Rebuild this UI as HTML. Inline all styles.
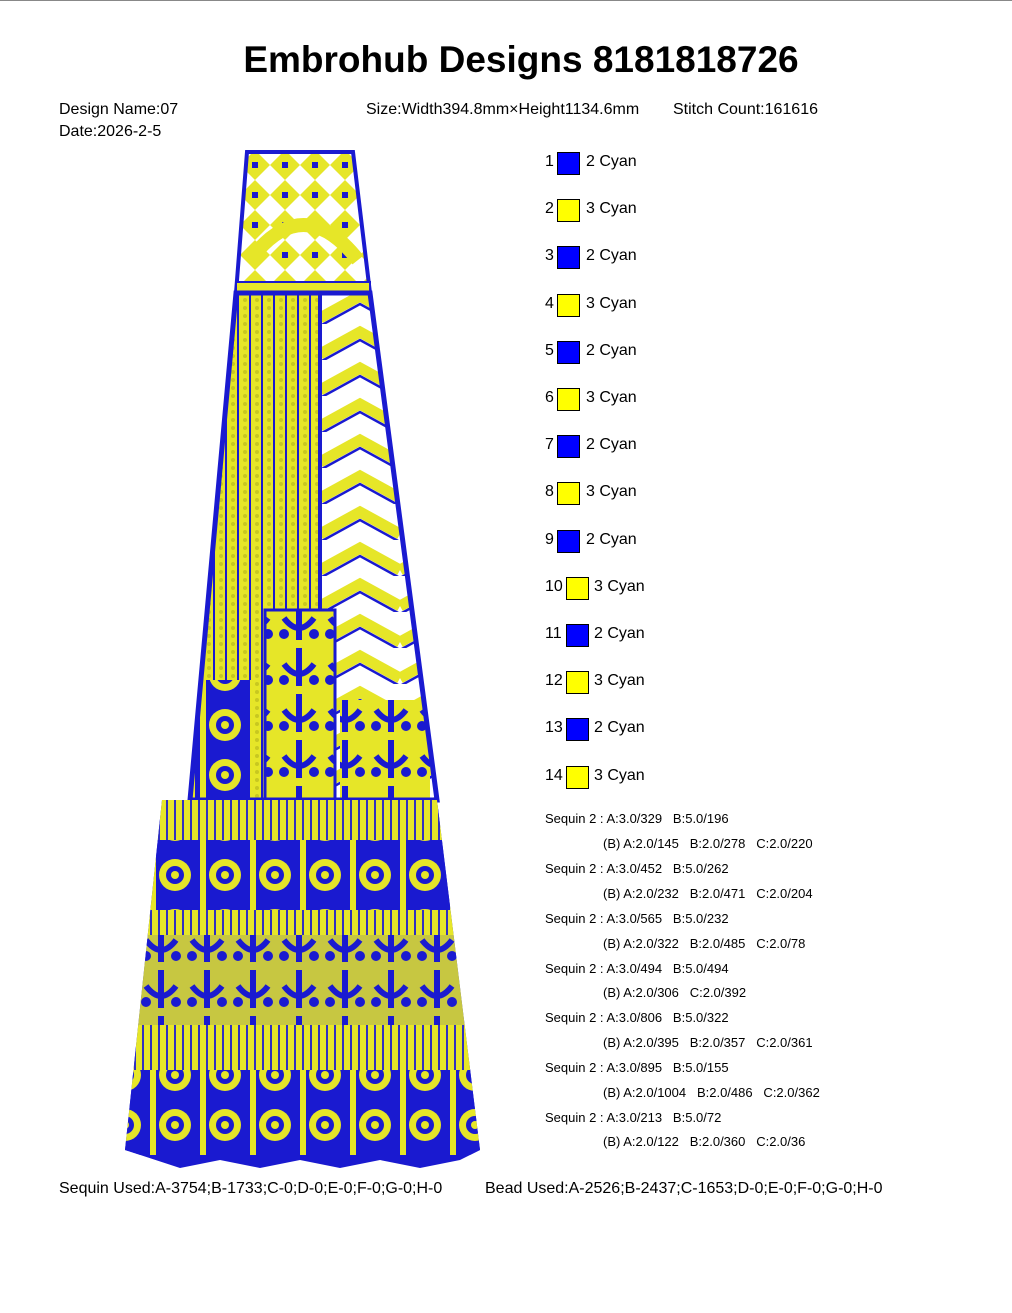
<!DOCTYPE html>
<html><head><meta charset="utf-8"><style>
body{margin:0;background:#fff;width:1012px;height:1313px;position:relative;overflow:hidden;font-family:"Liberation Sans",sans-serif;color:#000}
.t{position:absolute;white-space:nowrap}
.info{font-size:16px}
.sq{position:absolute;width:23px;height:23px;border:1px solid #000;box-sizing:border-box}
.b{background:#0000ff}.y{background:#ffff00}
.lg{position:absolute;font-size:16px;white-space:nowrap}
.sq2{font-size:13px;position:absolute;white-space:nowrap}
</style></head><body>
<div style="position:absolute;left:0;top:0;width:1012px;height:1px;background:#888"></div>
<div class="t" style="left:0;width:1042px;text-align:center;top:39px;font-size:37px;font-weight:bold">Embrohub Designs 8181818726</div>
<div class="t info" style="left:59px;top:101px">Design Name:07</div>
<div class="t info" style="left:59px;top:123px">Date:2026-2-5</div>
<div class="t info" style="left:366px;top:101px">Size:Width394.8mm×Height1134.6mm</div>
<div class="t info" style="left:673px;top:101px">Stitch Count:161616</div>

<svg style="position:absolute;left:0;top:0" width="1012" height="1313">
<defs>
<pattern id="stripes" width="12" height="8" patternUnits="userSpaceOnUse">
<rect width="12" height="8" fill="#e6e628"/><rect x="9" width="2" height="8" fill="#1a1ad0"/><circle cx="5" cy="4" r="2" fill="#c8c820"/></pattern>
<pattern id="chev" width="80" height="36" patternUnits="userSpaceOnUse">
<rect width="80" height="36" fill="#fff"/>
<path d="M0 30 L40 8 L80 30" stroke="#e6e628" stroke-width="11" fill="none"/>
<path d="M0 38 L40 16 L80 38" stroke="#1a1ad0" stroke-width="2.5" fill="none"/></pattern>
<pattern id="motif" width="50" height="50" patternUnits="userSpaceOnUse">
<rect width="50" height="50" fill="#1a1ad0"/>
<circle cx="25" cy="25" r="16" fill="#e6e628"/><circle cx="25" cy="25" r="9" fill="#1a1ad0"/><circle cx="25" cy="25" r="4" fill="#e6e628"/>
<rect x="0" y="0" width="6" height="50" fill="#e6e628"/></pattern>
<pattern id="motif2" width="46" height="46" patternUnits="userSpaceOnUse">
<rect width="46" height="46" fill="#e6e628"/>
<path d="M23 4 L23 42 M8 20 Q23 40 38 20" stroke="#1a1ad0" stroke-width="6" fill="none"/>
<circle cx="8" cy="36" r="5" fill="#1a1ad0"/><circle cx="38" cy="36" r="5" fill="#1a1ad0"/></pattern>
<pattern id="band" width="8" height="8" patternUnits="userSpaceOnUse">
<rect width="8" height="8" fill="#e6e628"/><rect x="6" width="2" height="8" fill="#3030c0"/></pattern>
<pattern id="top" width="30" height="30" patternUnits="userSpaceOnUse">
<rect width="30" height="30" fill="#fff"/><path d="M0 15 L15 0 L30 15 L15 30Z" fill="#e6e628"/><rect x="12" y="12" width="6" height="6" fill="#1a1ad0"/></pattern>
<clipPath id="skirt"><path d="M162 800 L437 800 L480 1150 L460 1160 L420 1168 L380 1160 L340 1168 L300 1160 L260 1168 L220 1160 L180 1168 L125 1150Z"/></clipPath>
<clipPath id="mid"><path d="M236 293 L370 293 L437 800 L190 800Z"/></clipPath>
</defs>
<!-- top panel -->
<path d="M247 152 L353 152 L370 293 L236 293Z" fill="url(#top)" stroke="#1a1ad0" stroke-width="4"/>
<path d="M250 260 Q303 190 358 260" stroke="#e6e628" stroke-width="14" fill="none"/>
<rect x="236" y="282" width="134" height="12" fill="#e6e628" stroke="#1a1ad0" stroke-width="2"/>
<!-- middle -->
<g clip-path="url(#mid)">
<path d="M236 293 L320 293 L320 800 L190 800Z" fill="url(#stripes)"/>
<path d="M320 293 L370 293 L437 800 L320 800Z" fill="url(#chev)"/>
<rect x="265" y="610" width="70" height="190" fill="url(#motif2)" stroke="#1a1ad0" stroke-width="3"/>
<rect x="195" y="680" width="60" height="120" fill="url(#motif)"/>
<rect x="340" y="700" width="90" height="100" fill="url(#motif2)"/>
</g>
<path d="M236 293 L370 293 L437 800 L190 800Z" fill="none" stroke="#1a1ad0" stroke-width="5"/>
<line x1="320" y1="293" x2="320" y2="610" stroke="#1a1ad0" stroke-width="4"/>
<!-- skirt -->
<g clip-path="url(#skirt)">
<rect x="120" y="795" width="370" height="380" fill="#1a1ad0"/>
<rect x="120" y="800" width="370" height="40" fill="url(#band)"/>
<rect x="120" y="840" width="370" height="70" fill="url(#motif)"/>
<rect x="120" y="910" width="370" height="25" fill="url(#band)"/>
<rect x="120" y="935" width="370" height="90" fill="url(#motif2)" opacity="0.85"/>
<rect x="120" y="1025" width="370" height="45" fill="url(#band)"/>
<rect x="120" y="1070" width="370" height="85" fill="url(#motif)"/>
</g>
</svg>

<div class="lg" style="left:545px;top:153px">1</div><div class="sq b" style="left:557px;top:152px"></div><div class="lg" style="left:586px;top:153px">2 Cyan</div>
<div class="lg" style="left:545px;top:200px">2</div><div class="sq y" style="left:557px;top:199px"></div><div class="lg" style="left:586px;top:200px">3 Cyan</div>
<div class="lg" style="left:545px;top:247px">3</div><div class="sq b" style="left:557px;top:246px"></div><div class="lg" style="left:586px;top:247px">2 Cyan</div>
<div class="lg" style="left:545px;top:295px">4</div><div class="sq y" style="left:557px;top:294px"></div><div class="lg" style="left:586px;top:295px">3 Cyan</div>
<div class="lg" style="left:545px;top:342px">5</div><div class="sq b" style="left:557px;top:341px"></div><div class="lg" style="left:586px;top:342px">2 Cyan</div>
<div class="lg" style="left:545px;top:389px">6</div><div class="sq y" style="left:557px;top:388px"></div><div class="lg" style="left:586px;top:389px">3 Cyan</div>
<div class="lg" style="left:545px;top:436px">7</div><div class="sq b" style="left:557px;top:435px"></div><div class="lg" style="left:586px;top:436px">2 Cyan</div>
<div class="lg" style="left:545px;top:483px">8</div><div class="sq y" style="left:557px;top:482px"></div><div class="lg" style="left:586px;top:483px">3 Cyan</div>
<div class="lg" style="left:545px;top:531px">9</div><div class="sq b" style="left:557px;top:530px"></div><div class="lg" style="left:586px;top:531px">2 Cyan</div>
<div class="lg" style="left:545px;top:578px">10</div><div class="sq y" style="left:566px;top:577px"></div><div class="lg" style="left:594px;top:578px">3 Cyan</div>
<div class="lg" style="left:545px;top:625px">11</div><div class="sq b" style="left:566px;top:624px"></div><div class="lg" style="left:594px;top:625px">2 Cyan</div>
<div class="lg" style="left:545px;top:672px">12</div><div class="sq y" style="left:566px;top:671px"></div><div class="lg" style="left:594px;top:672px">3 Cyan</div>
<div class="lg" style="left:545px;top:719px">13</div><div class="sq b" style="left:566px;top:718px"></div><div class="lg" style="left:594px;top:719px">2 Cyan</div>
<div class="lg" style="left:545px;top:767px">14</div><div class="sq y" style="left:566px;top:766px"></div><div class="lg" style="left:594px;top:767px">3 Cyan</div>

<div class="sq2" style="left:545px;top:811px">Sequin 2 : A:3.0/329&nbsp;&nbsp; B:5.0/196</div>
<div class="sq2" style="left:603px;top:836px">(B) A:2.0/145&nbsp;&nbsp; B:2.0/278&nbsp;&nbsp; C:2.0/220</div>
<div class="sq2" style="left:545px;top:861px">Sequin 2 : A:3.0/452&nbsp;&nbsp; B:5.0/262</div>
<div class="sq2" style="left:603px;top:886px">(B) A:2.0/232&nbsp;&nbsp; B:2.0/471&nbsp;&nbsp; C:2.0/204</div>
<div class="sq2" style="left:545px;top:911px">Sequin 2 : A:3.0/565&nbsp;&nbsp; B:5.0/232</div>
<div class="sq2" style="left:603px;top:936px">(B) A:2.0/322&nbsp;&nbsp; B:2.0/485&nbsp;&nbsp; C:2.0/78</div>
<div class="sq2" style="left:545px;top:961px">Sequin 2 : A:3.0/494&nbsp;&nbsp; B:5.0/494</div>
<div class="sq2" style="left:603px;top:985px">(B) A:2.0/306&nbsp;&nbsp; C:2.0/392</div>
<div class="sq2" style="left:545px;top:1010px">Sequin 2 : A:3.0/806&nbsp;&nbsp; B:5.0/322</div>
<div class="sq2" style="left:603px;top:1035px">(B) A:2.0/395&nbsp;&nbsp; B:2.0/357&nbsp;&nbsp; C:2.0/361</div>
<div class="sq2" style="left:545px;top:1060px">Sequin 2 : A:3.0/895&nbsp;&nbsp; B:5.0/155</div>
<div class="sq2" style="left:603px;top:1085px">(B) A:2.0/1004&nbsp;&nbsp; B:2.0/486&nbsp;&nbsp; C:2.0/362</div>
<div class="sq2" style="left:545px;top:1110px">Sequin 2 : A:3.0/213&nbsp;&nbsp; B:5.0/72</div>
<div class="sq2" style="left:603px;top:1134px">(B) A:2.0/122&nbsp;&nbsp; B:2.0/360&nbsp;&nbsp; C:2.0/36</div>

<div class="t info" style="left:59px;top:1180px">Sequin Used:A-3754;B-1733;C-0;D-0;E-0;F-0;G-0;H-0</div>
<div class="t info" style="left:485px;top:1180px">Bead Used:A-2526;B-2437;C-1653;D-0;E-0;F-0;G-0;H-0</div>
</body></html>
